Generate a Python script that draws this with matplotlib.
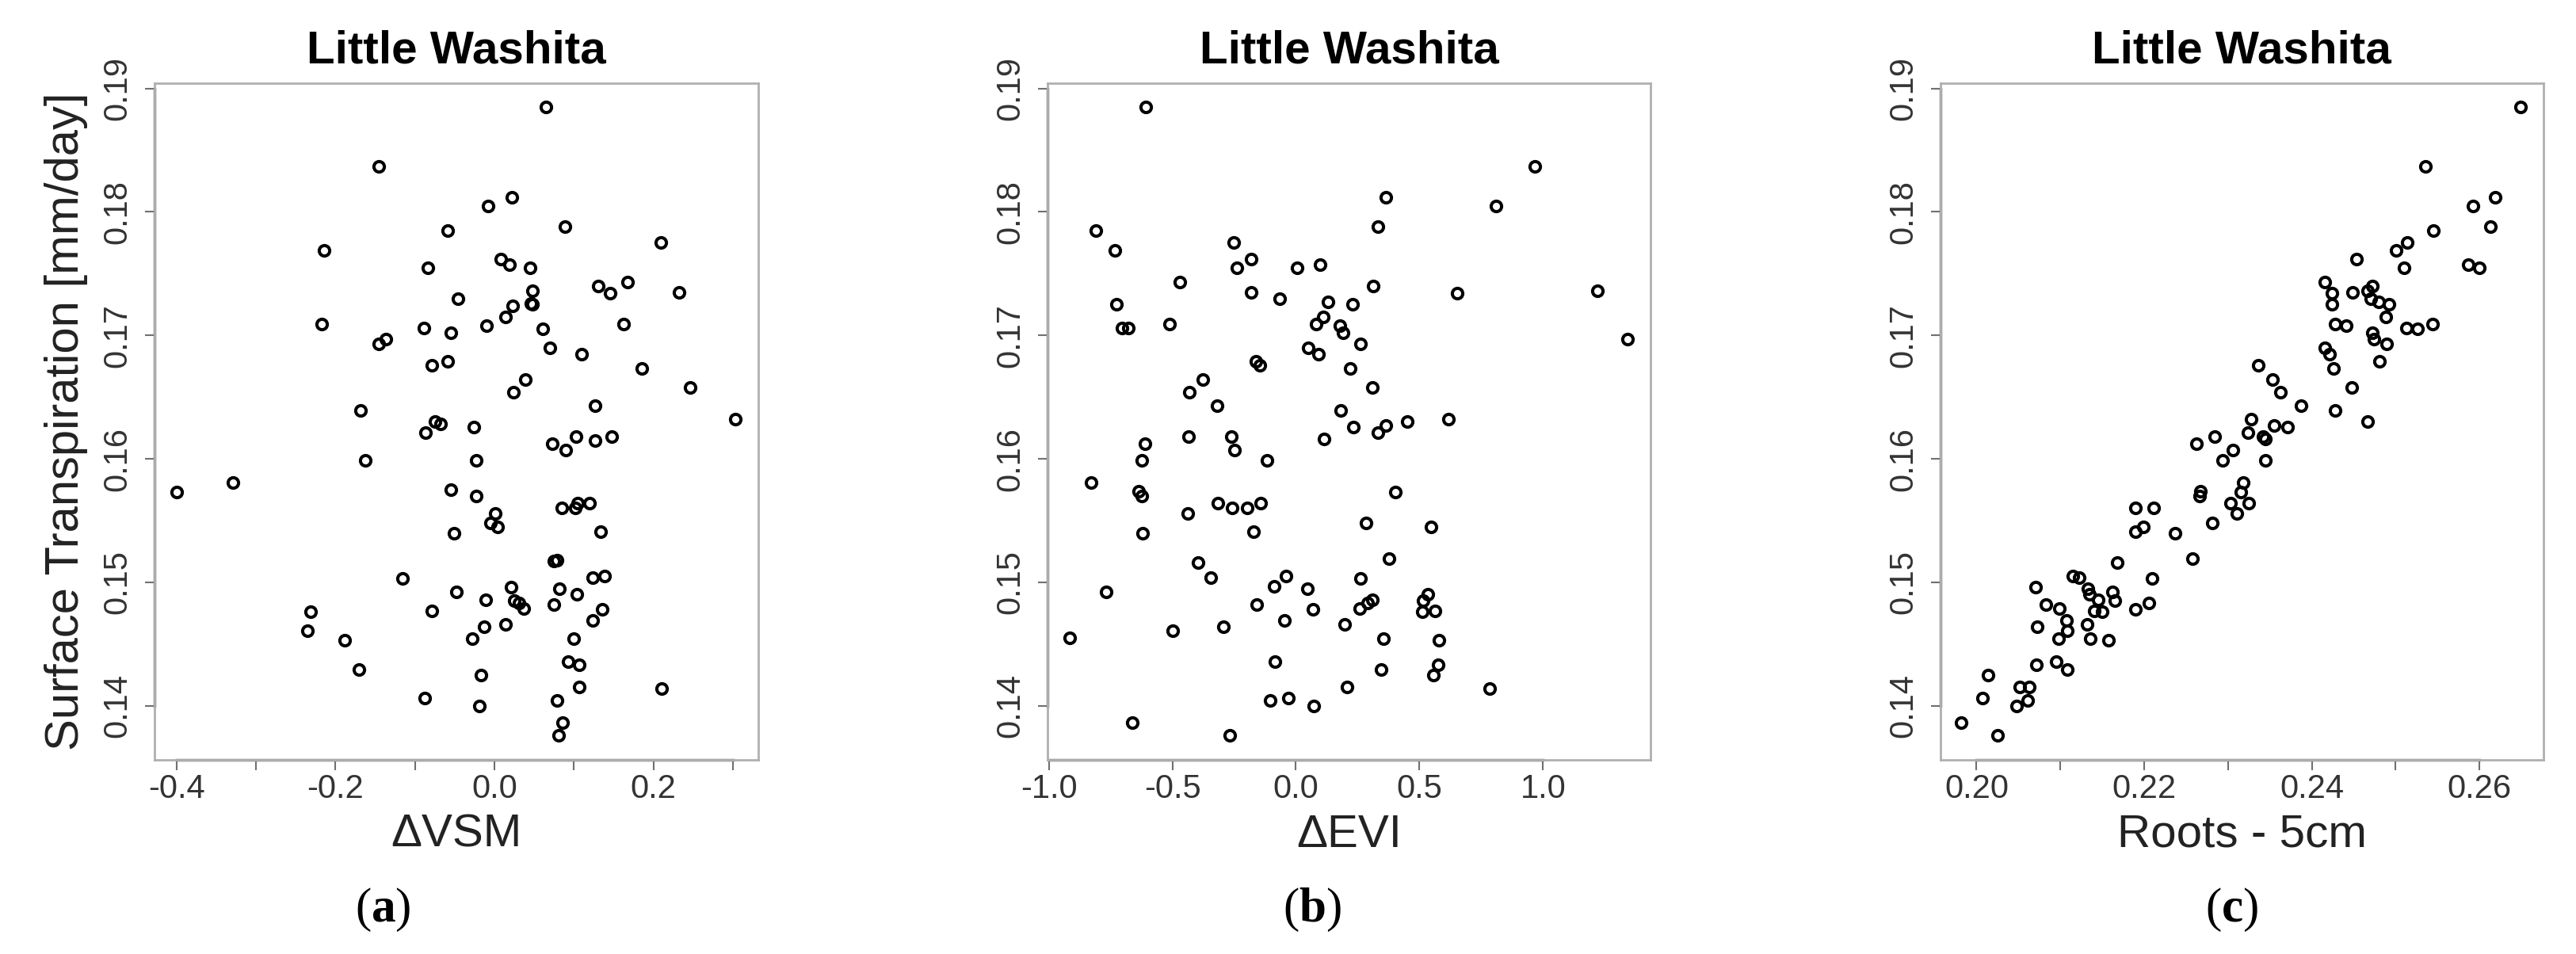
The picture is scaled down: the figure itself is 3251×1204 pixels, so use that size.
import matplotlib
matplotlib.use("Agg")
import matplotlib.pyplot as plt
import matplotlib.transforms as mtransforms
import numpy as np

# ---------------- data ----------------
vsm_x = [-0.400, -0.3284, -0.2147, -0.2169, -0.1453, -0.1458, -0.1369, -0.1684, -0.1627, -0.2307,
         -0.2347, -0.1884, -0.1707, -0.1160, -0.0884, -0.0840, -0.0587, -0.0453, -0.0551, -0.0787,
         -0.0591, -0.0862, -0.0742, -0.0676, -0.0258, -0.0231, -0.0547, -0.0231, 0.0009, -0.0053,
         0.0044, -0.0507, -0.0476, -0.0787, -0.0107, -0.0129, -0.0280, -0.0164, -0.0880, -0.0191,
         -0.0076, 0.0222, 0.0644, 0.0889, 0.0084, 0.0187, 0.0449, 0.0484, 0.0462, 0.0480,
         0.0227, 0.0142, -0.0102, 0.0604, 0.0702, 0.1102, 0.0387, 0.0236, 0.1302, 0.1458,
         0.1671, 0.2093, 0.2320, 0.1622, 0.1858, 0.2462, 0.3027, 0.1267, 0.0724, 0.0902,
         0.1027, 0.1262, 0.1476, 0.0844, 0.1013, 0.1044, 0.1196, 0.1338, 0.0747, 0.0791,
         0.0209, 0.0249, 0.0311, 0.0373, 0.0142, 0.0822, 0.0751, 0.1036, 0.1236, 0.1391,
         0.1356, 0.1236, 0.1000, 0.0929, 0.1067, 0.1071, 0.2102, 0.0787, 0.0862, 0.0809]
vsm_y = [0.15733, 0.1581, 0.1769, 0.1709, 0.1837, 0.1693, 0.1697, 0.1639, 0.1599, 0.1476,
         0.1461, 0.1453, 0.1429, 0.1503, 0.1706, 0.1755, 0.1785, 0.1730, 0.1702, 0.1676,
         0.1679, 0.1621, 0.1630, 0.1628, 0.1626, 0.1599, 0.1575, 0.1570, 0.1556, 0.1548,
         0.1545, 0.1540, 0.1492, 0.1477, 0.1486, 0.1464, 0.1454, 0.1425, 0.1406, 0.1400,
         0.1805, 0.1812, 0.1885, 0.1788, 0.1762, 0.1757, 0.1755, 0.1736, 0.1726, 0.1725,
         0.1724, 0.1715, 0.1708, 0.1705, 0.1690, 0.1685, 0.1664, 0.1654, 0.1740, 0.1734,
         0.1743, 0.1775, 0.1735, 0.1709, 0.1673, 0.1658, 0.1632, 0.1643, 0.1612, 0.1607,
         0.1618, 0.1615, 0.1618, 0.1560, 0.1560, 0.1564, 0.1564, 0.1541, 0.1517, 0.1518,
         0.1496, 0.1485, 0.1483, 0.1479, 0.1466, 0.1495, 0.1482, 0.1490, 0.1504, 0.1505,
         0.1478, 0.1469, 0.1454, 0.1436, 0.1433, 0.1415, 0.1414, 0.1404, 0.1386, 0.1376]

evi_x = [-0.6063, -0.8094, -0.7322, -0.7250, -0.7036, -0.6778, -0.5105, -0.4690, -0.2531, -0.2402,
         -0.1816, -0.1802, -0.0658, 0.0057, -0.1616, -0.1473, -0.3775, -0.4319, -0.3203, -0.4333,
         -0.2617, -0.2474, -0.1158, -0.6120, -0.6249, -0.8294, -0.6378, -0.6235, -0.6206, -0.4376,
         -0.3160, -0.2588, -0.1973, -0.1430, -0.1702, -0.3947, -0.3461, -0.7665, -0.9152, -0.4991,
         -0.2946, -0.1573, -0.0872, -0.0400, -0.0472, -0.0858, -0.1044, -0.0315, -0.6635, -0.2688,
         0.0976, 0.3142, 0.3314, 0.3630, 0.8106, 0.9656, 0.6528, 1.2209, 1.3429, 0.1291,
         0.2281, 0.1119, 0.0818, 0.1765, 0.1908, 0.2611, 0.0488, 0.0918, 0.2195, 0.3099,
         0.1808, 0.2310, 0.3314, 0.3630, 0.4505, 0.6169, 0.1148, 0.4032, 0.2826, 0.5452,
         0.3759, 0.2626, 0.0473, 0.0674, 0.1966, 0.2597, 0.2912, 0.3099, 0.5136, 0.5352,
         0.5108, 0.5638, 0.3544, 0.5796, 0.3458, 0.5768, 0.5552, 0.2066, 0.7848, 0.0732]
evi_y = [0.1885, 0.1785, 0.1769, 0.1725, 0.1706, 0.1706, 0.1709, 0.1743, 0.1775, 0.1755,
         0.1762, 0.1735, 0.1730, 0.1755, 0.1679, 0.1676, 0.1664, 0.1654, 0.1643, 0.1618,
         0.1618, 0.1607, 0.1599, 0.1612, 0.1599, 0.1581, 0.1574, 0.1570, 0.1540, 0.1556,
         0.1564, 0.1560, 0.1560, 0.1564, 0.1541, 0.1516, 0.1504, 0.1492, 0.1455, 0.1461,
         0.1464, 0.1482, 0.1497, 0.1505, 0.1469, 0.1436, 0.1404, 0.1406, 0.1386, 0.1376,
         0.1757, 0.1740, 0.1788, 0.1812, 0.1805, 0.1837, 0.1734, 0.1736, 0.1697, 0.1727,
         0.1725, 0.1715, 0.1709, 0.1708, 0.1702, 0.1693, 0.1690, 0.1685, 0.1673, 0.1658,
         0.1639, 0.1626, 0.1621, 0.1627, 0.1630, 0.1632, 0.1616, 0.1573, 0.1548, 0.1545,
         0.1519, 0.1503, 0.1495, 0.1478, 0.1466, 0.1479, 0.1483, 0.1486, 0.1485, 0.1490,
         0.1476, 0.1477, 0.1454, 0.1453, 0.1429, 0.1433, 0.1425, 0.1415, 0.1414, 0.1400]

roots_x = [0.1982, 0.2007, 0.2014, 0.2025, 0.2048, 0.2052, 0.2063, 0.2061, 0.2070, 0.2072,
           0.2071, 0.2083, 0.2099, 0.2095, 0.2098, 0.2107, 0.2108, 0.2108, 0.2115, 0.2122,
           0.2133, 0.2135, 0.2145, 0.2140, 0.2150, 0.2132, 0.2136, 0.2157, 0.2162, 0.2165,
           0.2168, 0.2190, 0.2190, 0.2190, 0.2199, 0.2211, 0.2209, 0.2206, 0.2237, 0.2258,
           0.2262, 0.2267, 0.2266, 0.2281, 0.2284, 0.2294, 0.2306, 0.2303, 0.2311, 0.2318,
           0.2315, 0.2325, 0.2324, 0.2328, 0.2336, 0.2342, 0.2345, 0.2345, 0.2355, 0.2353,
           0.2363, 0.2371, 0.2387, 0.2416, 0.2424, 0.2424, 0.2428, 0.2441, 0.2416, 0.2421,
           0.2426, 0.2428, 0.2448, 0.2453, 0.2449, 0.2467, 0.2472, 0.2470, 0.2480, 0.2492,
           0.2488, 0.2472, 0.2474, 0.2489, 0.2481, 0.2467, 0.2501, 0.2514, 0.2510, 0.2513,
           0.2526, 0.2544, 0.2536, 0.2545, 0.2587, 0.2600, 0.2592, 0.2613, 0.2619, 0.2649]
roots_y = [0.1386, 0.1406, 0.1425, 0.1376, 0.1400, 0.1415, 0.1415, 0.1404, 0.1496, 0.1464,
           0.1433, 0.1482, 0.1479, 0.1436, 0.1454, 0.1469, 0.1461, 0.1429, 0.1505, 0.1504,
           0.1495, 0.1490, 0.1486, 0.1477, 0.1476, 0.1466, 0.1454, 0.1453, 0.1492, 0.1485,
           0.1516, 0.1478, 0.1560, 0.1541, 0.1545, 0.1560, 0.1503, 0.1483, 0.1540, 0.1519,
           0.1612, 0.1574, 0.1570, 0.1548, 0.1618, 0.1599, 0.1607, 0.1564, 0.1556, 0.1581,
           0.1573, 0.1564, 0.1621, 0.1632, 0.1676, 0.1618, 0.1616, 0.1599, 0.1627, 0.1664,
           0.1654, 0.1626, 0.1643, 0.1743, 0.1734, 0.1725, 0.1709, 0.1708, 0.1690, 0.1685,
           0.1673, 0.1639, 0.1658, 0.1762, 0.1735, 0.1736, 0.1740, 0.1730, 0.1727, 0.1725,
           0.1715, 0.1702, 0.1697, 0.1693, 0.1679, 0.1630, 0.1769, 0.1775, 0.1755, 0.1706,
           0.1705, 0.1709, 0.1837, 0.1785, 0.1757, 0.1755, 0.1805, 0.1788, 0.1812, 0.1885]

y_ticks = [0.14, 0.15, 0.16, 0.17, 0.18, 0.19]
y_tick_labels = ["0.14", "0.15", "0.16", "0.17", "0.18", "0.19"]

vsm_ticks = [-0.4, -0.3, -0.2, -0.1, 0.0, 0.1, 0.2, 0.3]
vsm_tick_labels = ["-0.4", "", "-0.2", "", "0.0", "", "0.2", ""]
evi_ticks = [-1.0, -0.5, 0.0, 0.5, 1.0]
evi_tick_labels = ["-1.0", "-0.5", "0.0", "0.5", "1.0"]
roots_ticks = [0.20, 0.21, 0.22, 0.23, 0.24, 0.25, 0.26]
roots_tick_labels = ["0.20", "", "0.22", "", "0.24", "", "0.26"]

titles = ["Little Washita", "Little Washita", "Little Washita"]
xlabels = ["\u0394VSM", "\u0394EVI", "Roots - 5cm"]
ylabel = "Surface Transpiration [mm/day]"
panel_letters = ["a", "b", "c"]

# ---------------- layout ----------------
W, H = 3251, 1204
fig = plt.figure(figsize=(W / 100, H / 100), dpi=100)
plt.rcParams["font.family"] = ["Liberation Sans", "DejaVu Sans"]
plt.rcParams["mathtext.fontset"] = "custom"
plt.rcParams["mathtext.rm"] = "Liberation Serif"
plt.rcParams["mathtext.bf"] = "Liberation Serif:bold"

boxes_px = [(194.5, 956.6), (1322, 2083), (2449, 3209.5)]
top_px, bot_px = 105, 959
xlims = [(-0.428, 0.3316), (-1.005, 1.4347), (0.1957, 0.2676)]
ylim = (0.13561, 0.19043)
letter_x = [483, 1656, 2817]

datasets = [(vsm_x, vsm_y, vsm_ticks, vsm_tick_labels),
            (evi_x, evi_y, evi_ticks, evi_tick_labels),
            (roots_x, roots_y, roots_ticks, roots_tick_labels)]

box_col = "#b0b0b0"
axis_col = "#707070"
tick_txt = "#333333"

for i, (xs, ys, xt, xtl) in enumerate(datasets):
    l, r = boxes_px[i]
    ax = fig.add_axes([l / W, 1 - bot_px / H, (r - l) / W, (bot_px - top_px) / H])
    ax.plot(xs, ys, linestyle="none", marker="o", markersize=9.5,
            markerfacecolor="none", markeredgecolor="black", markeredgewidth=2.9)
    ax.set_xlim(*xlims[i])
    ax.set_ylim(*ylim)
    for s in ax.spines.values():
        s.set_color(box_col)
        s.set_linewidth(2)
    # R-style axis lines spanning the tick range
    tb = mtransforms.blended_transform_factory(ax.transData, ax.transAxes)
    ax.plot([xt[0], xt[-1]], [0, 0], transform=tb, color=axis_col, lw=2.5, clip_on=False)
    tl = mtransforms.blended_transform_factory(ax.transAxes, ax.transData)
    ax.plot([0, 0], [y_ticks[0], y_ticks[-1]], transform=tl, color=axis_col, lw=2.5, clip_on=False)

    ax.set_xticks(xt)
    ax.set_xticklabels(xtl)
    ax.set_yticks(y_ticks)
    ax.set_yticklabels(y_tick_labels, rotation=90, va="center")
    ax.tick_params(axis="both", direction="out", length=9, width=1.5, color=axis_col,
                   labelsize=30, labelcolor=tick_txt)
    ax.tick_params(axis="x", pad=3)
    ax.tick_params(axis="y", pad=10)

    ax.set_title(titles[i], fontsize=42, fontweight="bold", pad=18)
    ax.set_xlabel(xlabels[i], fontsize=42, labelpad=8, color="#222222")
    if i == 0:
        ax.set_ylabel(ylabel, fontsize=43, labelpad=12, color="#222222")

    fig.text(letter_x[i] / W, 1 - 1148 / H, "(" + r"$\mathbf{" + panel_letters[i] + "}$" + ")",
             fontsize=44, family="Liberation Serif", ha="center", va="center")

fig.savefig("out.png", dpi=100, facecolor="white")
